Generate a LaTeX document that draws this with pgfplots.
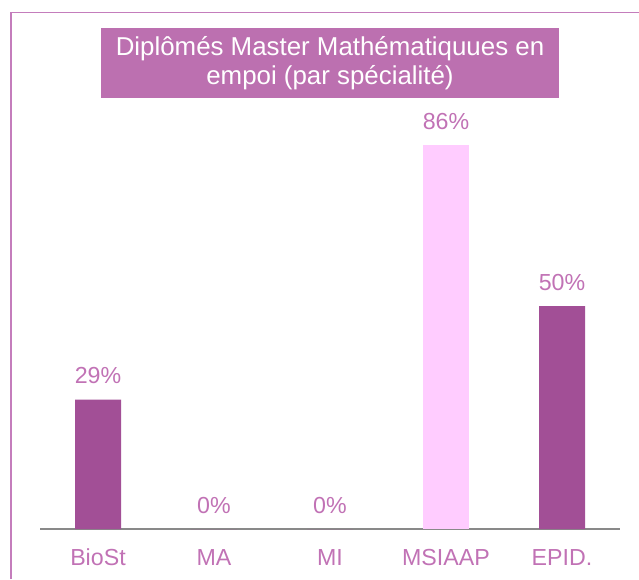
\documentclass[border=0pt]{standalone}
\usepackage{pgfplots}
\pgfplotsset{compat=1.18}
\usepackage{fontspec}
\setmainfont{Liberation Sans}

\definecolor{barDark}{HTML}{A24F96}
\definecolor{barLight}{HTML}{FFCCFF}
\definecolor{lblPink}{HTML}{C172B5}
\definecolor{titleBox}{HTML}{BC70B0}
\definecolor{frameCol}{HTML}{C47DBC}
\definecolor{axisGray}{HTML}{898989}

\begin{document}
\begin{tikzpicture}
% whole picture 639 x 579 px (1px = 0.75pt)
\path[use as bounding box] (0,0) rectangle (479.25pt,-434.25pt);

% frame, cut off on the right and at the bottom
\draw[frameCol, line width=1.4pt] (8pt,-434.25pt) -- (8pt,-9.4pt) -- (479.25pt,-9.4pt);

\begin{axis}[
  at={(30pt,-396.75pt)}, anchor=south west,
  scale only axis,
  width=435pt, height=334.5pt,
  xmin=-0.5, xmax=4.5,
  ymin=0, ymax=100,
  axis x line=bottom,
  axis y line=none,
  axis line style={draw=axisGray, line width=1.5pt, -},
  xtick={0,1,2,3,4},
  xticklabels={BioSt, MA, MI, MSIAAP, EPID.},
  major tick length=0pt,
  xticklabel style={font=\fontsize{17.4}{20}\selectfont, text=lblPink,
                    anchor=base, inner sep=0pt, yshift=-27pt},
  ybar, bar width=34.5pt, bar shift=0pt,
  /pgf/number format/assume math mode=true,
  nodes near coords={\pgfmathprintnumber{\pgfplotspointmeta}\%},
  every node near coord/.append style={font=\fontsize{17.4}{20}\selectfont,
                    text=lblPink, anchor=base, inner sep=0pt, yshift=12pt},
  clip=false,
]
\addplot[fill=barDark, draw=none] coordinates {(0,29) (1,0) (2,0) (4,50)};
\addplot[fill=barLight, draw=none] coordinates {(3,86)};
\end{axis}

% title box
\node[fill=titleBox, text=white, minimum width=343.5pt, minimum height=52pt,
      inner sep=0pt, align=center, font=\fontsize{19.4}{21.5}\selectfont]
  at (247.5pt,-47.25pt) {Diplômés Master Mathématiquues en\\empoi (par spécialité)};
\end{tikzpicture}
\end{document}
